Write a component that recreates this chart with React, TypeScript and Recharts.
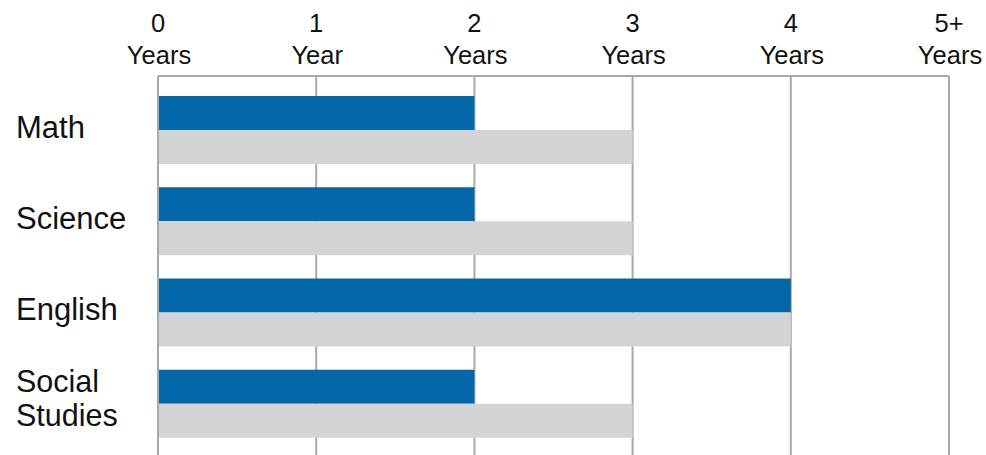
import React from 'react';
import { BarChart, Bar, XAxis, YAxis, CartesianGrid } from 'recharts';

const subjects = ['Math', 'Science', 'English', 'Social Studies'];
const blueValues = [2, 2, 4, 2];
const grayValues = [3, 3, 4, 3];
const xTicks = [0, 1, 2, 3, 4, 5];
const xTickTop = ['0', '1', '2', '3', '4', '5+'];
const xTickBottom = ['Years', 'Year', 'Years', 'Years', 'Years', 'Years'];

const data = subjects.map((s, i) => ({ subject: s, blue: blueValues[i], gray: grayValues[i] }));

const FONT = '"Liberation Sans", Arial, sans-serif';
const GRID = '#a9a9ab';
const TEXT = '#111111';

const XTick = (props: any) => {
  const { x, y, payload } = props;
  const i = xTicks.indexOf(payload.value);
  return (
    <text textAnchor="middle" fontFamily={FONT} fontSize={25.5} fill={TEXT}>
      <tspan x={x} y={y - 44}>{xTickTop[i]}</tspan>
      <tspan x={x + 1} y={y - 12.5}>{xTickBottom[i]}</tspan>
    </text>
  );
};

const YTick = (props: any) => {
  const { y, payload } = props;
  const words = String(payload.value).split(' ');
  if (words.length > 1) {
    return (
      <text textAnchor="start" fontFamily={FONT} fontSize={30.5} fill={TEXT}>
        <tspan x={16} y={y - 11}>{words[0]}</tspan>
        <tspan x={16} y={y + 23}>{words.slice(1).join(' ')}</tspan>
      </text>
    );
  }
  return (
    <text x={16} y={y + 8} textAnchor="start" fontFamily={FONT} fontSize={31} fill={TEXT}>
      {payload.value}
    </text>
  );
};

export default function App() {
  return (
    <div style={{ position: 'absolute', left: 0, top: 0, background: '#fff' }}>
      <BarChart
        width={986}
        height={455}
        data={data}
        layout="vertical"
        margin={{ top: 0, right: 37, bottom: 0, left: 0 }}
        barGap={0}
        barSize={34}
      >
        <CartesianGrid horizontal={false} vertical={true} stroke={GRID} strokeWidth={2} />
        <XAxis
          type="number"
          orientation="top"
          domain={[0, 5]}
          ticks={xTicks}
          height={76}
          tickLine={false}
          tickSize={0}
          tickMargin={0}
          axisLine={{ stroke: GRID, strokeWidth: 2 }}
          tick={<XTick />}
          interval={0}
        />
        <YAxis
          type="category"
          dataKey="subject"
          width={158}
          tickLine={false}
          axisLine={{ stroke: GRID, strokeWidth: 2 }}
          tick={<YTick />}
          padding={{ top: 8, bottom: 6 }}
          interval={0}
        />
        <Bar dataKey="blue" fill="#0366a6" isAnimationActive={false} />
        <Bar dataKey="gray" fill="#d3d4d6" isAnimationActive={false} />
      </BarChart>
    </div>
  );
}
